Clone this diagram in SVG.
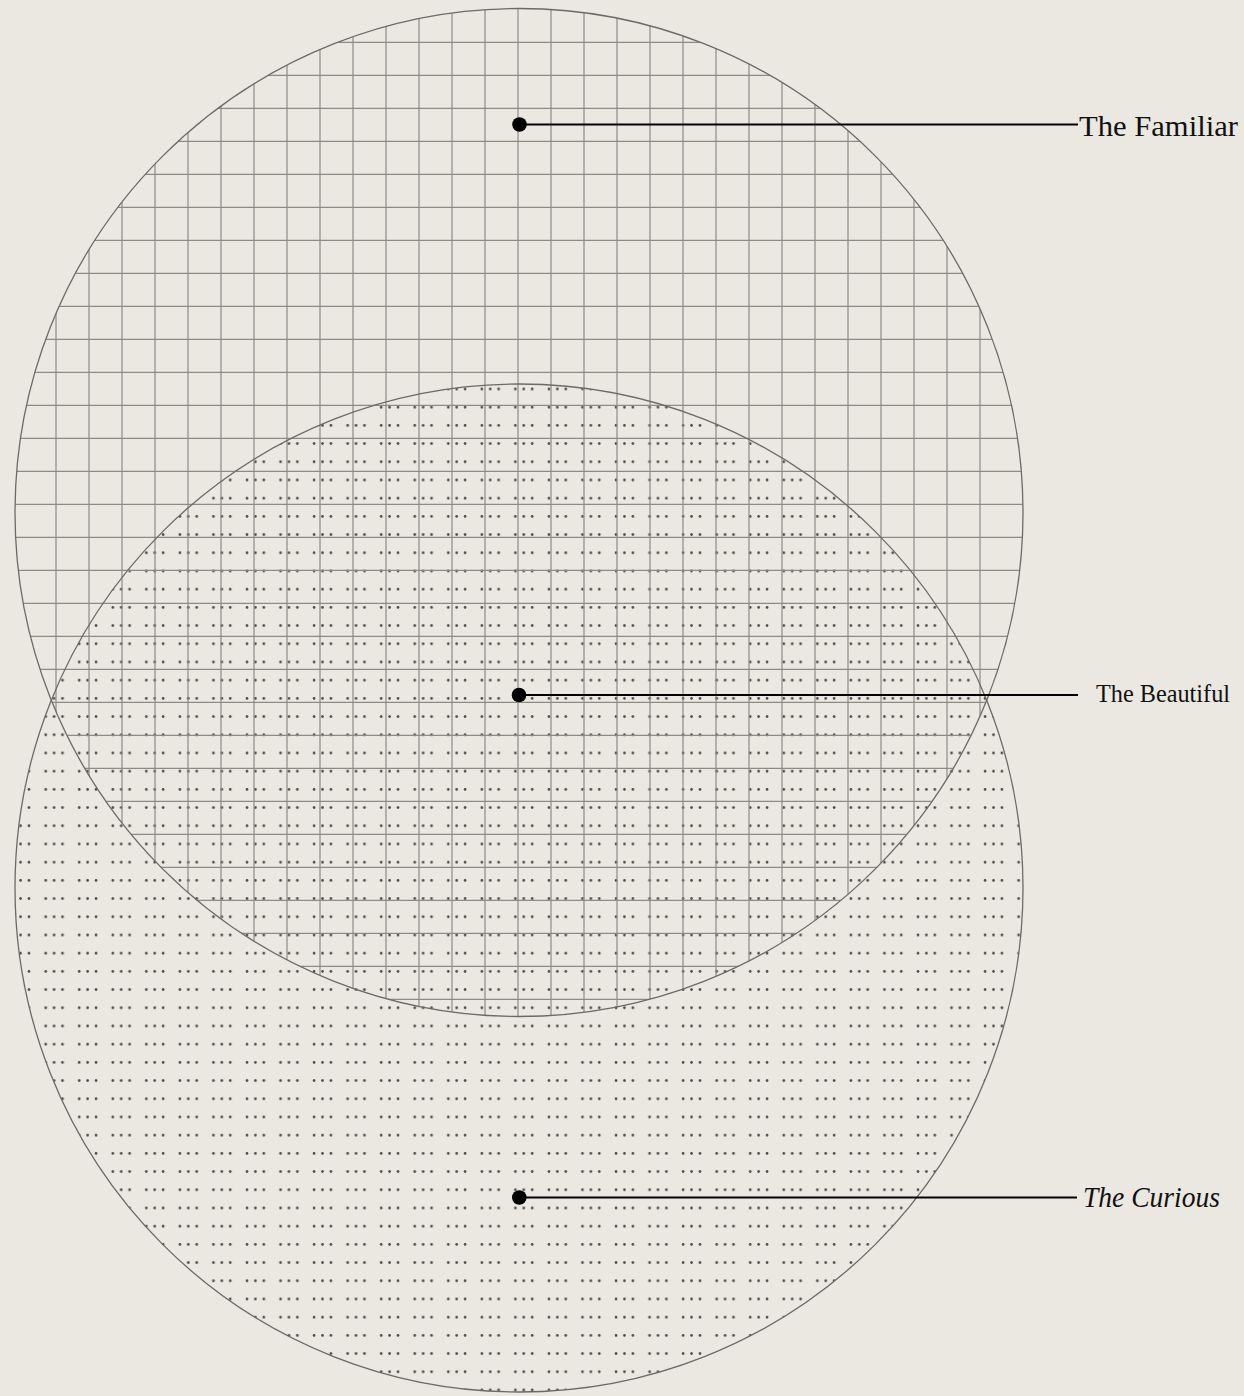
<svg xmlns="http://www.w3.org/2000/svg" width="1244" height="1396" viewBox="0 0 1244 1396">
<style>
.bg{fill:#ebe8e1}
.ring{fill:none;stroke:#6b6a66;stroke-width:1.3}
.grid{fill:none;stroke:#8b8a85;stroke-width:1.2}
.lead{stroke:#000;stroke-width:1.8;fill:none}
.pin{fill:#000}
.lbl{font-family:"Liberation Serif","Times New Roman",serif;fill:#111}
.big{font-size:30px}
.mid{font-size:24.5px}
.it{font-style:italic}
</style>
<defs>
<clipPath id="clipTop"><circle cx="519" cy="512.5" r="504"/></clipPath>
<clipPath id="clipBot"><circle cx="519" cy="888" r="504"/></clipPath>
<pattern id="dots" patternUnits="userSpaceOnUse" x="41.7" y="379.9" width="33.55" height="18.2">
<circle cx="4" cy="9.1" r="1.35" fill="#4a4945"/>
<circle cx="12.4" cy="9.1" r="1.35" fill="#4a4945"/>
<circle cx="20.8" cy="9.1" r="1.35" fill="#4a4945"/>
</pattern>
</defs>
<rect class="bg" x="0" y="0" width="1244" height="1396"/>

<g id="curious">
<circle cx="519" cy="888" r="504" fill="url(#dots)"/>
</g>

<g id="familiar">
<path class="grid" clip-path="url(#clipTop)" d="M56 0V1030M89 0V1030M122 0V1030M155 0V1030M188 0V1030M221 0V1030M254 0V1030M287 0V1030M320 0V1030M353 0V1030M386 0V1030M419 0V1030M452 0V1030M485 0V1030M518 0V1030M551 0V1030M584 0V1030M617 0V1030M650 0V1030M683 0V1030M716 0V1030M749 0V1030M782 0V1030M815 0V1030M848 0V1030M881 0V1030M914 0V1030M947 0V1030M980 0V1030
M0 42.3H1040M0 75.3H1040M0 108.3H1040M0 141.3H1040M0 174.3H1040M0 207.3H1040M0 240.3H1040M0 273.3H1040M0 306.3H1040M0 339.3H1040M0 372.3H1040M0 405.3H1040M0 438.3H1040M0 471.3H1040M0 504.3H1040M0 537.3H1040M0 570.3H1040M0 603.3H1040M0 636.3H1040M0 669.3H1040M0 702.3H1040M0 735.3H1040M0 768.3H1040M0 801.3H1040M0 834.3H1040M0 867.3H1040M0 900.3H1040M0 933.3H1040M0 966.3H1040M0 999.3H1040"/>
<circle class="ring" cx="519" cy="512.5" r="504"/>
</g>

<g id="curious-outline">
<circle class="ring" cx="519" cy="888" r="504"/>
</g>

<g id="connectors">
<line class="lead" x1="519" y1="124.5" x2="1078" y2="124.5"/>
<line class="lead" x1="519" y1="695" x2="1078" y2="695"/>
<line class="lead" x1="519" y1="1197.5" x2="1077" y2="1197.5"/>
</g>

<g id="label-familiar">
<circle class="pin" cx="519.5" cy="124.5" r="7.3"/>
<text class="lbl big" x="1079" y="136" textLength="159" lengthAdjust="spacingAndGlyphs">The Familiar</text>
</g>
<g id="label-beautiful">
<circle class="pin" cx="519" cy="695" r="7.3"/>
<text class="lbl mid" x="1096" y="702" textLength="134" lengthAdjust="spacingAndGlyphs">The Beautiful</text>
</g>
<g id="label-curious">
<circle class="pin" cx="519.3" cy="1197.5" r="7.3"/>
<text class="lbl big it" x="1083" y="1207" textLength="137" lengthAdjust="spacingAndGlyphs">The Curious</text>
</g>
</svg>
